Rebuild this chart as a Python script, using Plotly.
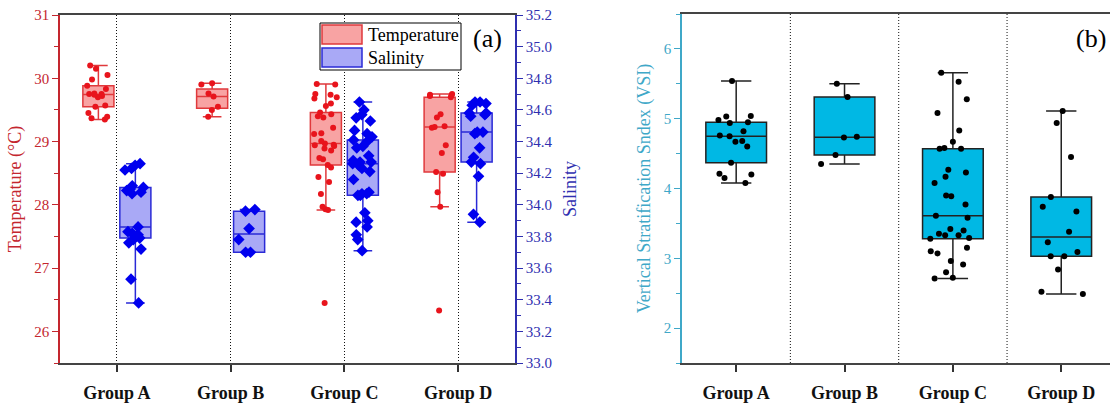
import plotly.graph_objects as go

# ---------------- data ----------------
groups = ["Group A", "Group B", "Group C", "Group D"]

temp_a = [30.20, 30.15, 30.05, 29.98, 29.88, 29.83, 29.76, 29.75, 29.75, 29.74,
          29.72, 29.70, 29.57, 29.55, 29.45, 29.39, 29.37, 29.35]
temp_b = [29.92, 29.90, 29.76, 29.71, 29.55, 29.50, 29.39]
temp_c = [29.91, 29.90, 29.75, 29.74, 29.70, 29.68, 29.60, 29.56, 29.46, 29.43,
          29.40, 29.38, 29.22, 29.13, 29.12, 29.01, 28.97, 28.95, 28.94, 28.93,
          28.89, 28.86, 28.74, 28.72, 28.63, 28.59, 28.44, 28.36, 28.17, 27.97,
          27.93, 27.92, 26.45]
temp_d = [29.75, 29.74, 29.73, 29.72, 29.70, 29.43, 29.38, 29.24, 29.23, 29.22,
          28.94, 28.82, 28.52, 28.49, 28.20, 27.97, 26.33]

sal_a = [34.26, 34.25, 34.23, 34.22, 34.12, 34.11, 34.10, 34.09, 34.08, 34.07,
         33.86, 33.83, 33.82, 33.81, 33.80, 33.79, 33.78, 33.76, 33.72, 33.53, 33.38]
sal_b = [33.97, 33.96, 33.85, 33.78, 33.70, 33.70]
sal_c = [34.65, 34.60, 34.57, 34.55, 34.53, 34.47, 34.45, 34.43,
         34.41, 34.40, 34.37, 34.36, 34.31, 34.28, 34.27, 34.27, 34.26, 34.26, 34.25,
         34.23, 34.21, 34.16, 34.08, 34.07, 34.07, 34.06, 34.06,
         33.95, 33.90, 33.89, 33.86, 33.81, 33.78, 33.71]
sal_d = [34.65, 34.65, 34.64, 34.63, 34.58, 34.58, 34.57, 34.56, 34.46, 34.46,
         34.45, 34.36, 34.30, 34.27, 34.26, 34.18, 33.94, 33.89]

vsi_a = [5.54, 5.04, 5.03, 4.98, 4.95, 4.94, 4.82, 4.76, 4.75, 4.68, 4.67, 4.60,
         4.37, 4.21, 4.20, 4.15, 4.08]
vsi_b = [5.50, 5.31, 4.74, 4.73, 4.48, 4.35]
vsi_c = [5.66, 5.53, 5.28, 5.08, 4.83, 4.67, 4.58, 4.57, 4.57, 4.27, 4.23, 4.17,
         4.08, 3.90, 3.89, 3.77, 3.61, 3.58, 3.42, 3.40, 3.35, 3.33, 3.33, 3.29,
         3.28, 3.15, 3.10, 3.07, 2.96, 2.91, 2.80, 2.72, 2.71]
vsi_d = [5.11, 4.94, 4.45, 3.88, 3.74, 3.67, 3.38, 3.23, 3.09, 3.03, 3.03, 2.84,
         2.52, 2.49]

temperature = [temp_a, temp_b, temp_c, temp_d]
salinity = [sal_a, sal_b, sal_c, sal_d]
vsi = [vsi_a, vsi_b, vsi_c, vsi_d]

# ---------------- helpers ----------------
W, H = 1110, 406
SERIF = "Liberation Serif"
DOT = "1px,2px"


def flat(series):
    xs = [g for g, vals in zip(groups, series) for _ in vals]
    ys = [v for vals in series for v in vals]
    return xs, ys


def px(x):
    return x / W


def py(y):
    return 1 - y / H


RED_AX = "#c4262e"
RED_LINE = "#e0393c"
RED_FILL = "#f8a3a3"
RED_PT = "#e8141c"
BLUE_AX = "#2f2fb0"
BLUE_LINE = "#2a2ad6"
BLUE_FILL = "#a9a9f6"
BLUE_PT = "#0000ee"
CYAN_AX = "#3fa8c8"
CYAN_FILL = "#00b8e4"

fig = go.Figure()

tx, ty = flat(temperature)
fig.add_trace(go.Box(
    x=tx, y=ty, name="Temperature", xaxis="x", yaxis="y",
    boxpoints="all", jitter=0.85, pointpos=0, quartilemethod="inclusive",
    fillcolor=RED_FILL, line=dict(color=RED_LINE, width=1.5),
    marker=dict(color=RED_PT, size=6, symbol="circle"),
    whiskerwidth=0.6, offsetgroup="T", alignmentgroup="g", showlegend=False,
))

sx, sy = flat(salinity)
fig.add_trace(go.Box(
    x=sx, y=sy, name="Salinity", xaxis="x", yaxis="y2",
    boxpoints="all", jitter=0.8, pointpos=0, quartilemethod="inclusive",
    fillcolor=BLUE_FILL, line=dict(color=BLUE_LINE, width=1.5),
    marker=dict(color=BLUE_PT, size=9, symbol="diamond"),
    whiskerwidth=0.6, offsetgroup="S", alignmentgroup="g", showlegend=False,
))

vx, vy = flat(vsi)
fig.add_trace(go.Box(
    x=vx, y=vy, name="VSI", xaxis="x2", yaxis="y3",
    boxpoints="all", jitter=0.9, pointpos=0, quartilemethod="inclusive",
    fillcolor=CYAN_FILL, line=dict(color="#222222", width=1.5),
    marker=dict(color="black", size=6, symbol="circle"),
    whiskerwidth=0.5, width=0.56, showlegend=False,
))

xcommon = dict(
    type="category", categoryorder="array", categoryarray=groups,
    showline=True, linecolor="#444444", linewidth=2, mirror=True,
    ticks="outside", ticklen=7, tickcolor="#333333", tickwidth=1.5,
    tickfont=dict(family=SERIF, size=18, color="#111111", weight="bold"),
    ticklabelstandoff=5, zeroline=False, automargin=False,
)


def yax(color, rng, dtick, mdtick, title, fmt=None, **kw):
    d = dict(
        range=rng, dtick=dtick, showline=True, linecolor=color, linewidth=1.5,
        ticks="outside", ticklen=6, tickcolor=color, tickwidth=1.2,
        tickfont=dict(family=SERIF, size=15, color=color),
        title=dict(text=title, font=dict(family=SERIF, size=18, color=color)),
        showgrid=False, zeroline=False, automargin=False,
        minor=dict(ticks="outside", ticklen=4, dtick=mdtick, tickcolor=color,
                   tickwidth=1.2, showgrid=False),
    )
    if fmt:
        d["tickformat"] = fmt
    d.update(kw)
    return d


fig.update_layout(
    width=W, height=H,
    margin=dict(l=0, r=0, t=0, b=0),
    paper_bgcolor="white", plot_bgcolor="white",
    boxmode="group", boxgap=0.35, boxgroupgap=0.16,
    xaxis=dict(xcommon, domain=[px(60), px(515)], anchor="y", range=[-0.5, 3.5],
               showgrid=True, gridcolor="#111111", gridwidth=1, griddash=DOT),
    yaxis=yax(RED_AX, [25.5, 31], 1, 0.5, "Temperature (°C)",
              domain=[py(363), py(15)], anchor="x"),
    yaxis2=yax(BLUE_AX, [33.0, 35.2], 0.2, 0.1, "Salinity", fmt=".1f",
               overlaying="y", side="right", anchor="x", tick0=33.0),
    xaxis2=dict(xcommon, domain=[px(682), 1.0], anchor="y3", range=[-0.5, 3.45],
                showgrid=False),
    yaxis3=yax(CYAN_AX, [1.5, 6.5], 1, 0.5, "Vertical Stratification Sndex (VSI)",
               domain=[py(363), py(14)], anchor="x2"),
    showlegend=False,
)
fig.update_layout(yaxis_title_standoff=8, yaxis2_title_standoff=12,
                  yaxis3_title_standoff=8)

# dotted separators between categories in panel (b)
shapes = []
for i in range(len(groups) - 1):
    shapes.append(dict(type="line", xref="x2", yref="y3 domain", x0=i + 0.5, x1=i + 0.5,
                       y0=0, y1=1, line=dict(color="#111111", width=1, dash=DOT),
                       layer="below"))

# legend of panel (a)
shapes.append(dict(type="rect", xref="paper", yref="paper",
                   x0=px(320), x1=px(461), y0=py(70), y1=py(23),
                   line=dict(color="black", width=1), fillcolor="white", layer="above"))
shapes.append(dict(type="rect", xref="paper", yref="paper",
                   x0=px(322), x1=px(362), y0=py(44), y1=py(25),
                   line=dict(color=RED_LINE, width=1.5), fillcolor=RED_FILL))
shapes.append(dict(type="rect", xref="paper", yref="paper",
                   x0=px(322), x1=px(362), y0=py(67), y1=py(48),
                   line=dict(color=BLUE_LINE, width=1.5), fillcolor=BLUE_FILL))
fig.update_layout(shapes=shapes)

annotations = [
    dict(text="Temperature", x=px(366), y=py(34.5), xref="paper", yref="paper",
         xanchor="left", yanchor="middle", showarrow=False,
         font=dict(family=SERIF, size=18, color="black")),
    dict(text="Salinity", x=px(366), y=py(57.5), xref="paper", yref="paper",
         xanchor="left", yanchor="middle", showarrow=False,
         font=dict(family=SERIF, size=18, color="black")),
    dict(text="(a)", x=px(487), y=py(38), xref="paper", yref="paper",
         xanchor="center", yanchor="middle", showarrow=False,
         font=dict(family=SERIF, size=26, color="black")),
    dict(text="(b)", x=px(1091), y=py(38), xref="paper", yref="paper",
         xanchor="center", yanchor="middle", showarrow=False,
         font=dict(family=SERIF, size=26, color="black")),
]
fig.update_layout(annotations=annotations)

fig.write_html("out.html", config={"displayModeBar": False},
               post_script="document.body.style.margin='0';document.body.style.overflow='hidden';")
